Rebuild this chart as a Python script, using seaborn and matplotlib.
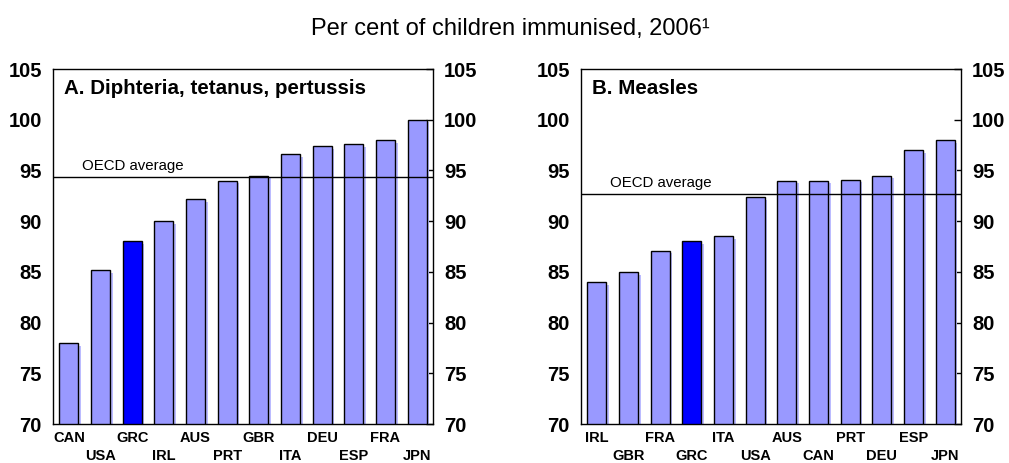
import matplotlib

matplotlib.use("Agg")
import matplotlib.patheffects as pe
import matplotlib.pyplot as plt
import seaborn as sns

# Panel A: diphteria, tetanus, pertussis
dtp_countries = ["CAN", "USA", "GRC", "IRL", "AUS", "PRT", "GBR", "ITA", "DEU", "ESP", "FRA", "JPN"]
dtp_values = [78.0, 85.2, 88.0, 90.0, 92.2, 94.0, 94.5, 96.6, 97.4, 97.6, 98.0, 100.0]
dtp_oecd = 94.4

# Panel B: measles
measles_countries = ["IRL", "GBR", "FRA", "GRC", "ITA", "USA", "AUS", "CAN", "PRT", "DEU", "ESP", "JPN"]
measles_values = [84.0, 85.0, 87.1, 88.0, 88.5, 92.4, 94.0, 94.0, 94.1, 94.5, 97.0, 98.0]
measles_oecd = 92.7

y_ticks = [70, 75, 80, 85, 90, 95, 100, 105]
HIGHLIGHT = "GRC"
BAR_COLOR = "#9999FF"
HIGHLIGHT_COLOR = "#0000FF"


def draw_panel(ax, countries, values, oecd_avg, title):
    colors = [HIGHLIGHT_COLOR if c == HIGHLIGHT else BAR_COLOR for c in countries]
    sns.barplot(
        x=countries,
        y=values,
        hue=countries,
        palette=colors,
        legend=False,
        width=0.6,
        edgecolor="black",
        linewidth=1.0,
        saturation=1,
        ax=ax,
    )
    for bar in ax.patches:
        bar.set_path_effects(
            [pe.SimplePatchShadow(offset=(2, -2), shadow_rgbFace="#BBBBFF", alpha=1.0), pe.Normal()]
        )

    ax.axhline(oecd_avg, color="black", linewidth=1.0, zorder=3)
    ax.text(0.42, oecd_avg + 0.35, "OECD average", fontsize=10.8, va="bottom", ha="left")
    ax.text(0.03, 0.945, title, transform=ax.transAxes, fontsize=14.8,
            fontweight="bold", va="center", ha="left")

    ax.set_ylim(70, 105)
    ax.set_xlim(-0.5, len(countries) - 0.5)
    ax.set_yticks(y_ticks)
    ax.tick_params(axis="y", direction="in", length=5, width=1, right=True,
                   labelright=True, labelsize=14.5, pad=8)
    for tick in ax.yaxis.get_major_ticks():
        tick.label1.set_fontweight("bold")
        tick.label2.set_fontweight("bold")
    ax.tick_params(axis="x", length=0, pad=5)

    labels = [c if i % 2 == 0 else "\n" + c for i, c in enumerate(countries)]
    ax.set_xticks(range(len(countries)))
    ax.set_xticklabels(labels, fontsize=10.5, fontweight="bold", linespacing=1.35)

    ax.set_xlabel("")
    ax.set_ylabel("")
    for spine in ax.spines.values():
        spine.set_visible(True)
        spine.set_color("black")
        spine.set_linewidth(1.0)


def main():
    sns.set_theme(style="white")
    plt.rcParams["font.family"] = ["Liberation Sans", "DejaVu Sans"]
    plt.rcParams["text.color"] = "black"
    plt.rcParams["xtick.color"] = "black"
    plt.rcParams["ytick.color"] = "black"
    plt.rcParams["axes.labelcolor"] = "black"

    fig = plt.figure(figsize=(10.09, 4.63), dpi=100)
    W, H = 1009, 463
    ax_a = fig.add_axes([53 / W, (H - 424) / H, 380 / W, 355 / H])
    ax_b = fig.add_axes([581 / W, (H - 424) / H, 380 / W, 355 / H])

    draw_panel(ax_a, dtp_countries, dtp_values, dtp_oecd, "A. Diphteria, tetanus, pertussis")
    draw_panel(ax_b, measles_countries, measles_values, measles_oecd, "B. Measles")

    fig.text(510 / W, 1 - 29 / H, "Per cent of children immunised, 2006¹",
             ha="center", va="center", fontsize=17)

    fig.savefig("out.png", dpi=100)
    plt.close(fig)


if __name__ == "__main__":
    main()
